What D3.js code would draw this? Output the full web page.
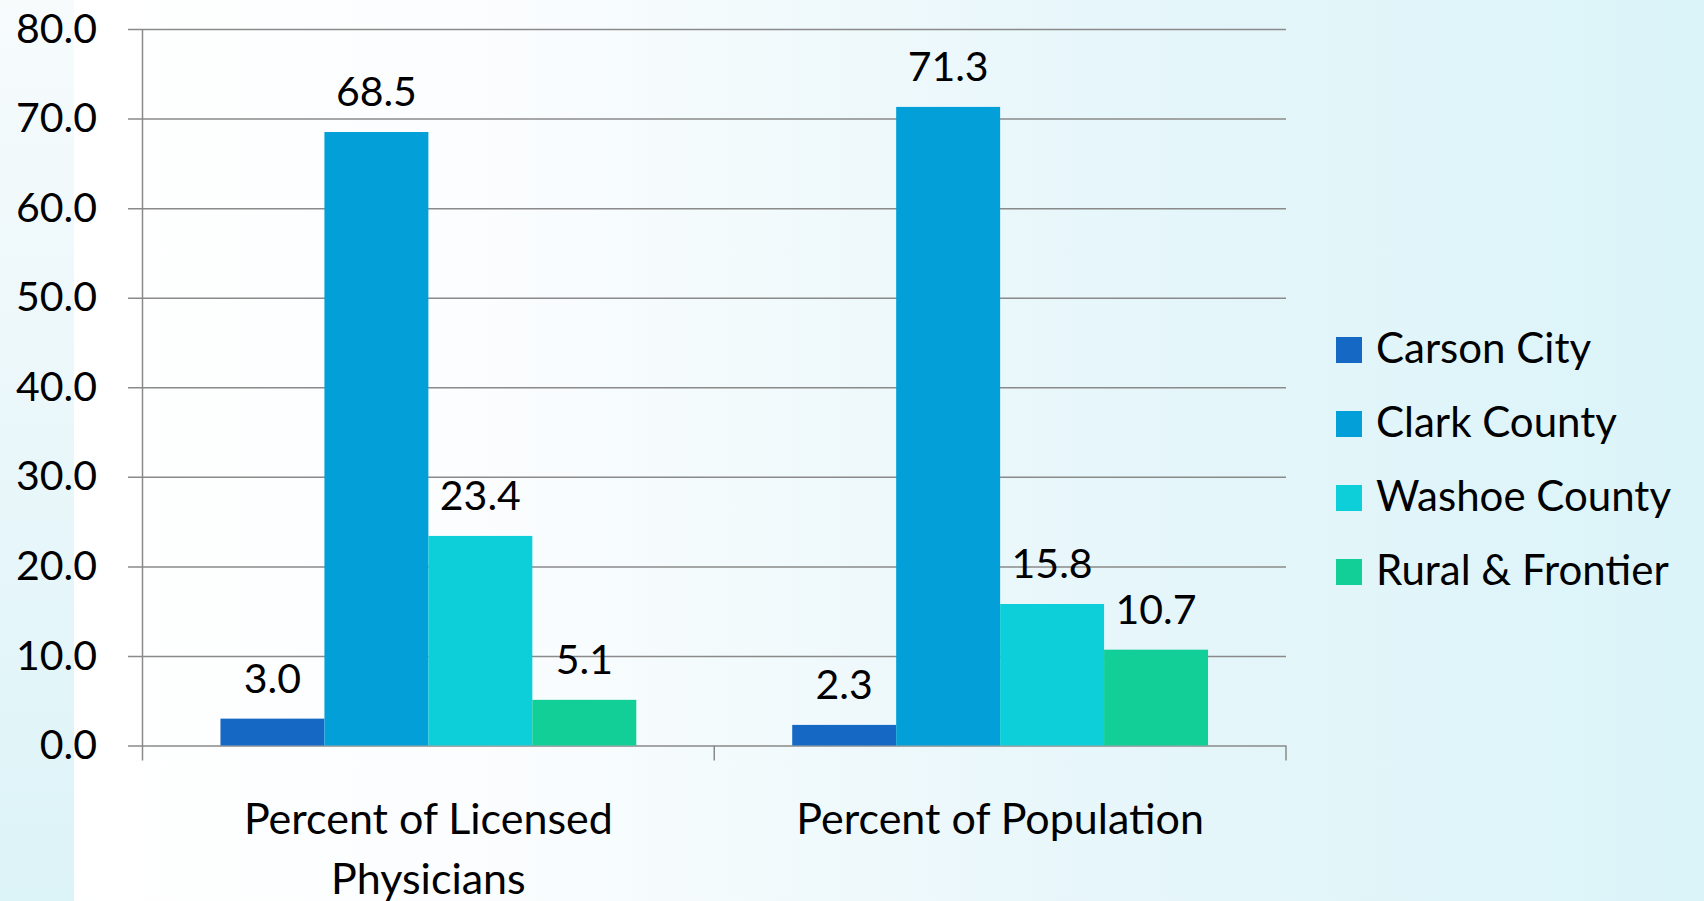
<!doctype html>
<html lang="en">
  <head>
    <meta charset="UTF-8" />
    <title>Physicians vs Population by Region</title>
    <script src="https://cdn.jsdelivr.net/npm/d3@7"></script>
    <style>
      body { margin: 0; overflow: hidden; }
      text { font-family: Lato, "Open Sans", sans-serif; fill: #000; }
    </style>
  </head>
  <body>
    <div id="chart"></div>
    <script>
      // chart values
      const categories = ["Percent of Licensed Physicians", "Percent of Population"];
      const categoryLines = [["Percent of Licensed", "Physicians"], ["Percent of Population"]];
      const series = ["Carson City", "Clark County", "Washoe County", "Rural & Frontier"];
      const carsonCity = [3.0, 2.3];
      const clarkCounty = [68.5, 71.3];
      const washoeCounty = [23.4, 15.8];
      const ruralFrontier = [5.1, 10.7];
      const yTicks = [0, 10, 20, 30, 40, 50, 60, 70, 80];

      const colors = ["#1569c5", "#039fd8", "#0ccfd9", "#12cf97"];
      const values = [carsonCity, clarkCounty, washoeCounty, ruralFrontier];

      const width = 1704;
      const height = 901;
      const plotLeft = 142.5;
      const plotRight = 1286;
      const plotTop = 29;
      const plotBottom = 745.5;
      const fontSize = 41;

      const svg = d3.select("#chart").append("svg")
        .attr("width", width)
        .attr("height", height);

      // background: light strip on the left, white -> cyan to the right
      const defs = svg.append("defs");
      const sideGrad = defs.append("linearGradient").attr("id", "side").attr("x1", 0).attr("y1", 0).attr("x2", 0).attr("y2", 1);
      sideGrad.append("stop").attr("offset", "0%").attr("stop-color", "#f7fbfc");
      sideGrad.append("stop").attr("offset", "100%").attr("stop-color", "#dcf3f8");
      const mainGrad = defs.append("linearGradient").attr("id", "main").attr("x1", 0).attr("y1", 0).attr("x2", 1).attr("y2", 0);
      mainGrad.append("stop").attr("offset", "0%").attr("stop-color", "#ffffff");
      mainGrad.append("stop").attr("offset", "25%").attr("stop-color", "#fbfdfe");
      mainGrad.append("stop").attr("offset", "65%").attr("stop-color", "#e6f6fa");
      mainGrad.append("stop").attr("offset", "100%").attr("stop-color", "#dbf4f9");

      svg.append("rect").attr("width", width).attr("height", height).attr("fill", "url(#side)");
      svg.append("rect").attr("x", 74).attr("width", width - 74).attr("height", height).attr("fill", "url(#main)");

      // scales
      const y = d3.scaleLinear().domain([0, 80]).range([plotBottom, plotTop]);
      const x0 = d3.scaleBand().domain(categories).range([plotLeft, plotRight]).padding(0);
      const x1 = d3.scaleBand().domain(series).range([0, x0.bandwidth()]).paddingInner(0).paddingOuter(0.75);

      // gridlines + y tick labels
      const yAxis = d3.axisLeft(y)
        .tickValues(yTicks)
        .tickFormat(d3.format(".1f"))
        .tickSize(plotRight - 128)
        .tickPadding(31);

      const gy = svg.append("g")
        .attr("transform", `translate(${plotRight},0)`)
        .call(yAxis);
      gy.select(".domain").remove();
      gy.selectAll(".tick line").attr("stroke", "#8a8a8a").attr("stroke-width", 1.5);
      gy.selectAll(".tick text")
        .attr("font-size", fontSize)
        .attr("font-family", "Lato, sans-serif")
        .attr("fill", "#000");

      // y axis line
      svg.append("line")
        .attr("x1", plotLeft).attr("x2", plotLeft)
        .attr("y1", plotTop).attr("y2", plotBottom + 15)
        .attr("stroke", "#8a8a8a").attr("stroke-width", 1.5);

      // category separators on the x axis
      const sepX = categories.map(c => x0(c)).concat([plotRight]);
      svg.selectAll(".sep")
        .data(sepX.slice(1))
        .enter().append("line")
        .attr("class", "sep")
        .attr("x1", d => d).attr("x2", d => d)
        .attr("y1", plotBottom).attr("y2", plotBottom + 15)
        .attr("stroke", "#8a8a8a").attr("stroke-width", 1.5);

      // bars
      const groups = svg.selectAll(".group")
        .data(categories)
        .enter().append("g")
        .attr("class", "group")
        .attr("transform", d => `translate(${x0(d)},0)`);

      groups.selectAll("rect")
        .data((c, ci) => series.map((s, si) => ({ s, si, v: values[si][ci] })))
        .enter().append("rect")
        .attr("x", d => x1(d.s))
        .attr("y", d => y(d.v))
        .attr("width", x1.bandwidth())
        .attr("height", d => y(0) - y(d.v))
        .attr("fill", d => colors[d.si]);

      groups.selectAll(".val")
        .data((c, ci) => series.map((s, si) => ({ s, si, v: values[si][ci] })))
        .enter().append("text")
        .attr("class", "val")
        .attr("x", d => x1(d.s) + x1.bandwidth() / 2)
        .attr("y", d => y(d.v) - 26)
        .attr("text-anchor", "middle")
        .attr("font-size", fontSize)
        .text(d => d.v.toFixed(1));

      // category labels
      const catLabels = svg.selectAll(".cat")
        .data(categories)
        .enter().append("text")
        .attr("class", "cat")
        .attr("text-anchor", "middle")
        .attr("font-size", 43);
      catLabels.selectAll("tspan")
        .data((d, i) => categoryLines[i].map(line => ({ line, c: d })))
        .enter().append("tspan")
        .attr("x", d => x0(d.c) + x0.bandwidth() / 2)
        .attr("y", (d, j) => 834 + j * 60)
        .text(d => d.line);

      // legend
      const legend = svg.append("g").attr("id", "legend");
      const items = legend.selectAll("g")
        .data(series)
        .enter().append("g")
        .attr("transform", (d, i) => `translate(1336,${350 + i * 74})`);
      items.append("rect")
        .attr("y", -13)
        .attr("width", 26).attr("height", 26)
        .attr("fill", (d, i) => colors[i]);
      items.append("text")
        .attr("x", 40)
        .attr("y", 13)
        .attr("font-size", 42)
        .text(d => d);
    </script>
  </body>
</html>
